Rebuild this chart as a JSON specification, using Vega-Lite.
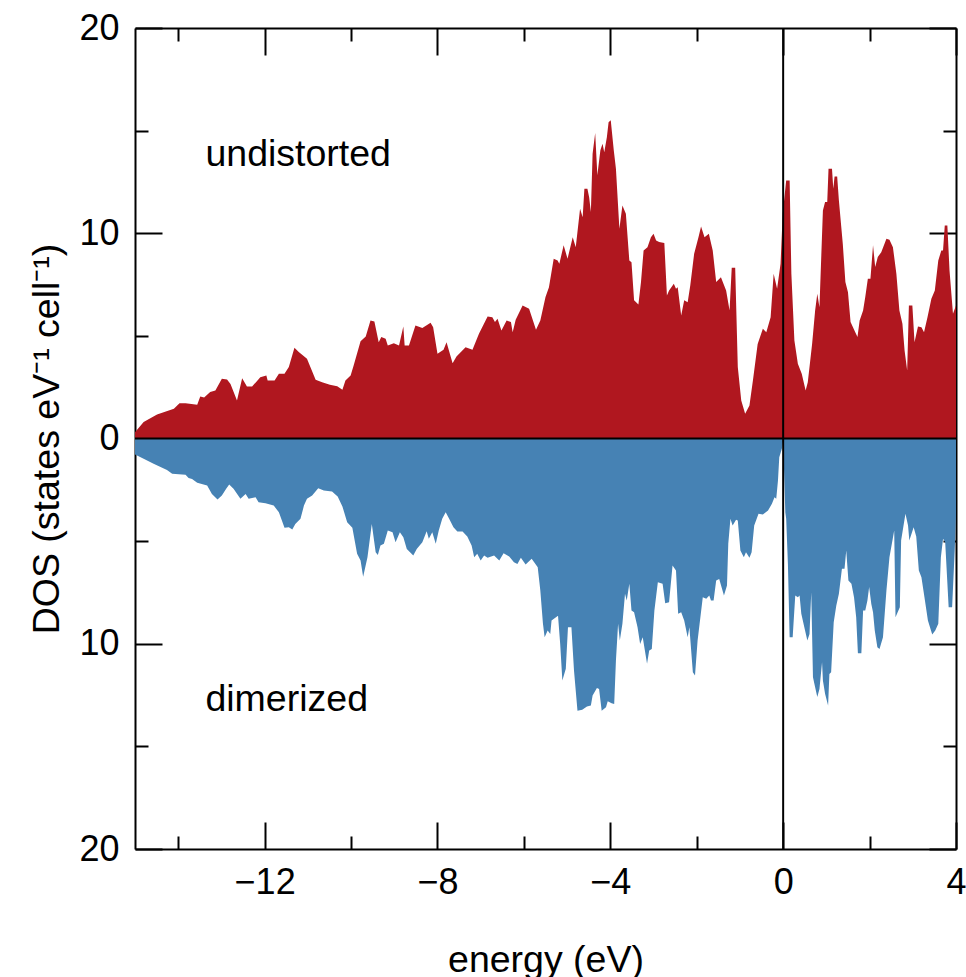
{
  "$schema": "https://vega.github.io/schema/vega-lite/v6.json",
  "autosize": {"type": "none"},
  "width": 821,
  "height": 821,
  "padding": {"left": 135, "top": 28, "right": 10, "bottom": 128},
  "background": "white",
  "config": {
    "view": {"stroke": null},
    "font": "Liberation Sans",
    "axis": {
      "domainColor": "black", "domainWidth": 2, "tickColor": "black", "tickWidth": 2,
      "labelFont": "Liberation Sans", "labelFontSize": 36, "labelColor": "black",
      "titleFont": "Liberation Sans", "titleFontSize": 37.5, "titleFontWeight": "normal", "titleColor": "black",
      "grid": false, "labelFlush": false, "labelOverlap": false, "labelBound": false
    }
  },
  "datasets": {
    "up": [
      {"e":-15.0,"d":0.3},{"e":-14.8,"d":0.8},{"e":-14.49,"d":1.17},{"e":-14.1,"d":1.45},{"e":-13.97,"d":1.72},{"e":-13.83,"d":1.72},{"e":-13.56,"d":1.64},{"e":-13.49,"d":2.05},{"e":-13.4,"d":2.0},{"e":-13.26,"d":2.26},{"e":-13.14,"d":2.34},{"e":-12.99,"d":2.91},{"e":-12.87,"d":2.88},{"e":-12.79,"d":2.66},{"e":-12.64,"d":1.85},{"e":-12.52,"d":2.94},{"e":-12.41,"d":2.53},{"e":-12.29,"d":2.53},{"e":-12.1,"d":2.99},{"e":-11.96,"d":3.07},{"e":-11.93,"d":2.83},{"e":-11.77,"d":2.83},{"e":-11.67,"d":3.15},{"e":-11.54,"d":3.15},{"e":-11.44,"d":3.48},{"e":-11.31,"d":4.42},{"e":-11.21,"d":4.21},{"e":-11.02,"d":3.88},{"e":-10.82,"d":2.86},{"e":-10.67,"d":2.74},{"e":-10.49,"d":2.62},{"e":-10.32,"d":2.55},{"e":-10.2,"d":2.37},{"e":-10.13,"d":2.83},{"e":-10.01,"d":3.07},{"e":-9.94,"d":3.56},{"e":-9.78,"d":4.74},{"e":-9.66,"d":4.97},{"e":-9.55,"d":5.75},{"e":-9.46,"d":5.7},{"e":-9.36,"d":4.69},{"e":-9.3,"d":4.94},{"e":-9.2,"d":4.86},{"e":-9.15,"d":4.53},{"e":-9.01,"d":4.64},{"e":-8.89,"d":4.53},{"e":-8.79,"d":5.46},{"e":-8.76,"d":4.53},{"e":-8.66,"d":4.53},{"e":-8.51,"d":5.51},{"e":-8.35,"d":5.38},{"e":-8.16,"d":5.64},{"e":-8.1,"d":5.42},{"e":-8.0,"d":4.13},{"e":-7.86,"d":4.32},{"e":-7.79,"d":4.69},{"e":-7.65,"d":3.67},{"e":-7.56,"d":4.0},{"e":-7.35,"d":4.45},{"e":-7.19,"d":4.32},{"e":-7.04,"d":5.1},{"e":-6.84,"d":5.95},{"e":-6.73,"d":5.91},{"e":-6.67,"d":5.67},{"e":-6.61,"d":5.83},{"e":-6.52,"d":5.26},{"e":-6.4,"d":5.75},{"e":-6.3,"d":5.67},{"e":-6.26,"d":5.18},{"e":-6.19,"d":5.78},{"e":-6.03,"d":6.48},{"e":-5.88,"d":6.32},{"e":-5.72,"d":5.3},{"e":-5.62,"d":5.75},{"e":-5.5,"d":6.89},{"e":-5.42,"d":7.37},{"e":-5.31,"d":8.76},{"e":-5.22,"d":8.67},{"e":-5.18,"d":8.51},{"e":-5.08,"d":9.41},{"e":-4.99,"d":8.76},{"e":-4.87,"d":9.81},{"e":-4.8,"d":9.32},{"e":-4.7,"d":11.19},{"e":-4.64,"d":10.78},{"e":-4.6,"d":12.17},{"e":-4.53,"d":12.17},{"e":-4.49,"d":11.76},{"e":-4.45,"d":11.03},{"e":-4.41,"d":13.87},{"e":-4.35,"d":14.88},{"e":-4.3,"d":12.82},{"e":-4.23,"d":14.04},{"e":-4.18,"d":14.36},{"e":-4.14,"d":13.95},{"e":-4.08,"d":14.68},{"e":-4.04,"d":15.41},{"e":-3.99,"d":15.5},{"e":-3.92,"d":14.04},{"e":-3.87,"d":13.14},{"e":-3.79,"d":10.22},{"e":-3.72,"d":11.35},{"e":-3.64,"d":10.95},{"e":-3.56,"d":8.67},{"e":-3.51,"d":8.59},{"e":-3.45,"d":6.73},{"e":-3.35,"d":6.53},{"e":-3.29,"d":7.62},{"e":-3.23,"d":9.16},{"e":-3.14,"d":9.32},{"e":-3.06,"d":9.81},{"e":-3.0,"d":9.97},{"e":-2.94,"d":9.65},{"e":-2.87,"d":9.57},{"e":-2.75,"d":9.52},{"e":-2.69,"d":6.97},{"e":-2.64,"d":7.21},{"e":-2.53,"d":7.54},{"e":-2.48,"d":7.3},{"e":-2.44,"d":7.37},{"e":-2.36,"d":5.99},{"e":-2.29,"d":6.73},{"e":-2.21,"d":6.64},{"e":-2.15,"d":7.46},{"e":-2.06,"d":9.0},{"e":-1.96,"d":9.81},{"e":-1.9,"d":10.33},{"e":-1.82,"d":9.81},{"e":-1.72,"d":9.97},{"e":-1.63,"d":9.16},{"e":-1.55,"d":7.62},{"e":-1.44,"d":7.86},{"e":-1.32,"d":7.21},{"e":-1.24,"d":6.24},{"e":-1.19,"d":8.32},{"e":-1.11,"d":8.32},{"e":-1.05,"d":3.48},{"e":-0.97,"d":1.85},{"e":-0.88,"d":1.2},{"e":-0.78,"d":1.61},{"e":-0.7,"d":2.83},{"e":-0.59,"d":4.61},{"e":-0.47,"d":5.35},{"e":-0.39,"d":5.18},{"e":-0.29,"d":5.91},{"e":-0.22,"d":8.03},{"e":-0.14,"d":7.3},{"e":-0.06,"d":8.51},{"e":-0.01,"d":10.95},{"e":0.07,"d":12.57},{"e":0.15,"d":12.57},{"e":0.19,"d":8.03},{"e":0.26,"d":4.78},{"e":0.34,"d":3.64},{"e":0.43,"d":3.15},{"e":0.52,"d":2.34},{"e":0.57,"d":2.74},{"e":0.67,"d":4.61},{"e":0.74,"d":6.24},{"e":0.79,"d":7.05},{"e":0.84,"d":6.4},{"e":0.92,"d":11.11},{"e":0.97,"d":11.52},{"e":1.02,"d":11.52},{"e":1.05,"d":13.14},{"e":1.13,"d":13.14},{"e":1.16,"d":12.17},{"e":1.19,"d":12.77},{"e":1.25,"d":12.77},{"e":1.29,"d":11.6},{"e":1.38,"d":9.49},{"e":1.44,"d":7.62},{"e":1.5,"d":7.13},{"e":1.56,"d":5.67},{"e":1.65,"d":5.26},{"e":1.72,"d":4.94},{"e":1.77,"d":5.75},{"e":1.85,"d":6.24},{"e":1.9,"d":6.89},{"e":1.96,"d":7.78},{"e":2.02,"d":7.78},{"e":2.08,"d":9.41},{"e":2.13,"d":8.35},{"e":2.19,"d":8.84},{"e":2.27,"d":9.08},{"e":2.39,"d":9.73},{"e":2.46,"d":9.68},{"e":2.54,"d":9.32},{"e":2.62,"d":8.03},{"e":2.69,"d":6.24},{"e":2.76,"d":5.59},{"e":2.81,"d":4.29},{"e":2.87,"d":3.31},{"e":2.91,"d":6.48},{"e":2.99,"d":6.48},{"e":3.04,"d":4.69},{"e":3.12,"d":5.46},{"e":3.2,"d":5.42},{"e":3.26,"d":5.18},{"e":3.34,"d":5.91},{"e":3.43,"d":6.81},{"e":3.51,"d":7.21},{"e":3.59,"d":8.67},{"e":3.66,"d":9.16},{"e":3.7,"d":9.16},{"e":3.74,"d":10.38},{"e":3.8,"d":10.38},{"e":3.85,"d":8.19},{"e":3.93,"d":6.08},{"e":4.0,"d":6.48}
    ],
    "down": [
      {"e":-15.0,"d":-0.78},{"e":-14.8,"d":-0.99},{"e":-14.57,"d":-1.23},{"e":-14.26,"d":-1.53},{"e":-14.14,"d":-1.72},{"e":-13.83,"d":-1.77},{"e":-13.76,"d":-1.93},{"e":-13.68,"d":-1.97},{"e":-13.56,"d":-2.16},{"e":-13.33,"d":-2.29},{"e":-13.22,"d":-2.7},{"e":-13.09,"d":-2.97},{"e":-12.99,"d":-2.78},{"e":-12.89,"d":-2.45},{"e":-12.82,"d":-2.24},{"e":-12.72,"d":-2.45},{"e":-12.56,"d":-2.94},{"e":-12.44,"d":-2.7},{"e":-12.37,"d":-2.94},{"e":-12.21,"d":-2.86},{"e":-12.14,"d":-3.1},{"e":-11.98,"d":-3.15},{"e":-11.79,"d":-3.27},{"e":-11.67,"d":-3.59},{"e":-11.54,"d":-4.35},{"e":-11.44,"d":-4.32},{"e":-11.36,"d":-4.43},{"e":-11.29,"d":-4.16},{"e":-11.17,"d":-3.91},{"e":-11.09,"d":-3.27},{"e":-11.02,"d":-2.94},{"e":-10.9,"d":-2.78},{"e":-10.76,"d":-2.42},{"e":-10.63,"d":-2.53},{"e":-10.44,"d":-2.58},{"e":-10.31,"d":-2.83},{"e":-10.2,"d":-3.31},{"e":-10.09,"d":-4.08},{"e":-9.97,"d":-4.35},{"e":-9.86,"d":-5.62},{"e":-9.78,"d":-5.95},{"e":-9.72,"d":-6.73},{"e":-9.62,"d":-5.78},{"e":-9.52,"d":-4.16},{"e":-9.43,"d":-5.54},{"e":-9.38,"d":-5.67},{"e":-9.32,"d":-5.21},{"e":-9.24,"d":-5.13},{"e":-9.15,"d":-4.48},{"e":-9.04,"d":-4.57},{"e":-8.97,"d":-5.05},{"e":-8.87,"d":-4.57},{"e":-8.79,"d":-4.81},{"e":-8.71,"d":-5.38},{"e":-8.56,"d":-5.7},{"e":-8.48,"d":-5.38},{"e":-8.35,"d":-5.05},{"e":-8.25,"d":-4.52},{"e":-8.2,"d":-4.89},{"e":-8.12,"d":-4.57},{"e":-8.04,"d":-5.13},{"e":-7.97,"d":-4.48},{"e":-7.89,"d":-3.91},{"e":-7.81,"d":-3.59},{"e":-7.73,"d":-3.91},{"e":-7.63,"d":-4.32},{"e":-7.54,"d":-4.53},{"e":-7.42,"d":-4.53},{"e":-7.31,"d":-4.78},{"e":-7.21,"d":-5.21},{"e":-7.15,"d":-5.78},{"e":-7.08,"d":-5.62},{"e":-7.0,"d":-5.95},{"e":-6.92,"d":-5.7},{"e":-6.84,"d":-5.81},{"e":-6.69,"d":-5.7},{"e":-6.57,"d":-5.95},{"e":-6.47,"d":-5.59},{"e":-6.34,"d":-5.75},{"e":-6.23,"d":-6.03},{"e":-6.15,"d":-6.11},{"e":-6.07,"d":-5.81},{"e":-5.96,"d":-6.14},{"e":-5.82,"d":-5.86},{"e":-5.68,"d":-6.27},{"e":-5.62,"d":-7.4},{"e":-5.56,"d":-9.0},{"e":-5.52,"d":-9.68},{"e":-5.45,"d":-9.36},{"e":-5.39,"d":-9.52},{"e":-5.36,"d":-8.87},{"e":-5.21,"d":-8.63},{"e":-5.16,"d":-10.01},{"e":-5.11,"d":-11.79},{"e":-5.03,"d":-11.22},{"e":-4.98,"d":-9.19},{"e":-4.9,"d":-9.19},{"e":-4.84,"d":-11.31},{"e":-4.76,"d":-13.26},{"e":-4.65,"d":-13.22},{"e":-4.54,"d":-13.06},{"e":-4.45,"d":-13.01},{"e":-4.41,"d":-12.52},{"e":-4.31,"d":-12.15},{"e":-4.26,"d":-12.2},{"e":-4.2,"d":-13.26},{"e":-4.1,"d":-13.09},{"e":-4.06,"d":-12.8},{"e":-3.97,"d":-12.9},{"e":-3.91,"d":-12.93},{"e":-3.87,"d":-10.82},{"e":-3.82,"d":-9.03},{"e":-3.78,"d":-9.84},{"e":-3.72,"d":-9.03},{"e":-3.66,"d":-7.57},{"e":-3.62,"d":-7.89},{"e":-3.56,"d":-7.08},{"e":-3.51,"d":-8.38},{"e":-3.45,"d":-8.46},{"e":-3.37,"d":-9.19},{"e":-3.31,"d":-10.01},{"e":-3.25,"d":-9.68},{"e":-3.2,"d":-10.33},{"e":-3.15,"d":-10.98},{"e":-3.1,"d":-10.33},{"e":-3.04,"d":-10.25},{"e":-2.98,"d":-8.38},{"e":-2.9,"d":-7.0},{"e":-2.79,"d":-7.08},{"e":-2.73,"d":-8.03},{"e":-2.64,"d":-7.98},{"e":-2.56,"d":-6.19},{"e":-2.48,"d":-6.43},{"e":-2.43,"d":-8.54},{"e":-2.36,"d":-8.46},{"e":-2.29,"d":-8.87},{"e":-2.21,"d":-9.68},{"e":-2.17,"d":-9.19},{"e":-2.09,"d":-11.39},{"e":-2.04,"d":-11.55},{"e":-1.98,"d":-9.84},{"e":-1.86,"d":-7.73},{"e":-1.78,"d":-7.81},{"e":-1.71,"d":-7.65},{"e":-1.67,"d":-7.89},{"e":-1.61,"d":-7.89},{"e":-1.55,"d":-6.92},{"e":-1.48,"d":-6.84},{"e":-1.37,"d":-7.65},{"e":-1.3,"d":-7.16},{"e":-1.27,"d":-5.13},{"e":-1.22,"d":-3.91},{"e":-1.17,"d":-4.24},{"e":-1.09,"d":-3.96},{"e":-1.05,"d":-4.0},{"e":-0.99,"d":-5.46},{"e":-0.91,"d":-5.78},{"e":-0.86,"d":-5.54},{"e":-0.78,"d":-5.81},{"e":-0.73,"d":-5.54},{"e":-0.67,"d":-4.24},{"e":-0.57,"d":-3.67},{"e":-0.47,"d":-3.7},{"e":-0.35,"d":-3.51},{"e":-0.26,"d":-3.18},{"e":-0.2,"d":-2.86},{"e":-0.16,"d":-2.94},{"e":-0.12,"d":-2.05},{"e":-0.09,"d":-0.91},{"e":-0.03,"d":-0.5},{"e":0.0,"d":-0.1},{"e":0.05,"d":-3.6},{"e":0.07,"d":-3.91},{"e":0.11,"d":-6.11},{"e":0.15,"d":-9.68},{"e":0.22,"d":-9.68},{"e":0.28,"d":-7.65},{"e":0.34,"d":-7.73},{"e":0.38,"d":-7.65},{"e":0.42,"d":-8.54},{"e":0.49,"d":-9.19},{"e":0.56,"d":-9.84},{"e":0.61,"d":-9.52},{"e":0.65,"d":-7.49},{"e":0.69,"d":-11.63},{"e":0.74,"d":-12.12},{"e":0.79,"d":-12.6},{"e":0.84,"d":-12.2},{"e":0.9,"d":-10.9},{"e":0.92,"d":-11.79},{"e":0.97,"d":-12.44},{"e":1.04,"d":-13.01},{"e":1.07,"d":-11.47},{"e":1.11,"d":-11.39},{"e":1.17,"d":-8.95},{"e":1.23,"d":-8.14},{"e":1.29,"d":-7.57},{"e":1.36,"d":-6.35},{"e":1.42,"d":-6.35},{"e":1.46,"d":-5.46},{"e":1.51,"d":-6.92},{"e":1.58,"d":-7.08},{"e":1.64,"d":-7.73},{"e":1.69,"d":-8.71},{"e":1.73,"d":-10.46},{"e":1.81,"d":-10.46},{"e":1.85,"d":-8.38},{"e":1.9,"d":-8.38},{"e":1.95,"d":-7.89},{"e":1.99,"d":-7.24},{"e":2.04,"d":-8.06},{"e":2.08,"d":-8.46},{"e":2.12,"d":-9.36},{"e":2.18,"d":-10.17},{"e":2.23,"d":-10.25},{"e":2.31,"d":-9.68},{"e":2.39,"d":-7.41},{"e":2.46,"d":-5.78},{"e":2.57,"d":-4.48},{"e":2.6,"d":-8.71},{"e":2.7,"d":-8.22},{"e":2.73,"d":-4.97},{"e":2.83,"d":-3.67},{"e":2.89,"d":-4.24},{"e":2.92,"d":-4.97},{"e":3.02,"d":-4.32},{"e":3.08,"d":-4.78},{"e":3.14,"d":-6.43},{"e":3.2,"d":-6.76},{"e":3.27,"d":-7.73},{"e":3.35,"d":-8.87},{"e":3.45,"d":-9.55},{"e":3.52,"d":-9.36},{"e":3.59,"d":-9.03},{"e":3.65,"d":-5.78},{"e":3.7,"d":-4.89},{"e":3.75,"d":-5.05},{"e":3.83,"d":-8.22},{"e":3.91,"d":-8.22},{"e":3.97,"d":-5.46},{"e":4.0,"d":-3.75}
    ],
    "labels": [
      {"label": "undistorted", "e": -13.37, "d": 13.3},
      {"label": "dimerized", "e": -13.37, "d": -13.3}
    ]
  },
  "layer": [
    {
      "data": {"name": "up"},
      "mark": {"type": "area", "color": "#B0171F", "interpolate": "linear"},
      "encoding": {
        "x": {
          "field": "e", "type": "quantitative",
          "scale": {"domain": [-15, 4], "nice": false, "zero": false},
          "axis": {
            "orient": "bottom", "title": "energy (eV)",
            "values": [-14, -12, -10, -8, -6, -4, -2, 0, 2, 4],
            "labelExpr": "datum.value % 4 === 0 ? datum.label : ''",
            "tickSize": {"condition": {"test": "datum.value % 4 === 0", "value": -27}, "value": -13},
            "labelPadding": 43, "titlePadding": 27
          }
        },
        "y": {
          "field": "d", "type": "quantitative",
          "scale": {"domain": [-20, 20], "nice": false},
          "axis": {
            "orient": "left", "title": "DOS (states eV⁻¹ cell⁻¹)",
            "values": [-20, -15, -10, -5, 0, 5, 10, 15, 20],
            "labelExpr": "datum.value % 10 === 0 ? format(abs(datum.value), 'd') : ''",
            "tickSize": {"condition": {"test": "datum.value % 10 === 0", "value": -27}, "value": -13},
            "labelPadding": 43, "titlePadding": 12
          }
        }
      }
    },
    {
      "data": {"name": "down"},
      "mark": {"type": "area", "color": "#4682B4", "interpolate": "linear"},
      "encoding": {
        "x": {
          "field": "e", "type": "quantitative",
          "scale": {"domain": [-15, 4], "nice": false, "zero": false},
          "axis": {
            "orient": "top", "title": null, "labels": false,
            "values": [-14, -12, -10, -8, -6, -4, -2, 0, 2, 4],
            "tickSize": {"condition": {"test": "datum.value % 4 === 0", "value": -27}, "value": -13}
          }
        },
        "y": {
          "field": "d", "type": "quantitative",
          "scale": {"domain": [-20, 20], "nice": false},
          "axis": {
            "orient": "right", "title": null, "labels": false,
            "values": [-20, -15, -10, -5, 0, 5, 10, 15, 20],
            "tickSize": {"condition": {"test": "datum.value % 10 === 0", "value": -27}, "value": -13}
          }
        }
      }
    },
    {
      "data": {"values": [{"v": 0}]},
      "mark": {"type": "rule", "color": "black", "strokeWidth": 2},
      "encoding": {"y": {"field": "v", "type": "quantitative", "axis": null}}
    },
    {
      "data": {"values": [{"v": 0}]},
      "mark": {"type": "rule", "color": "black", "strokeWidth": 2},
      "encoding": {"x": {"field": "v", "type": "quantitative", "axis": null}}
    },
    {
      "data": {"name": "labels"},
      "mark": {"type": "text", "align": "left", "baseline": "alphabetic", "fontSize": 37.5, "font": "Liberation Sans", "color": "black"},
      "encoding": {
        "x": {"field": "e", "type": "quantitative", "axis": null},
        "y": {"field": "d", "type": "quantitative", "axis": null},
        "text": {"field": "label"}
      }
    }
  ],
  "resolve": {"axis": {"x": "independent", "y": "independent"}}
}
